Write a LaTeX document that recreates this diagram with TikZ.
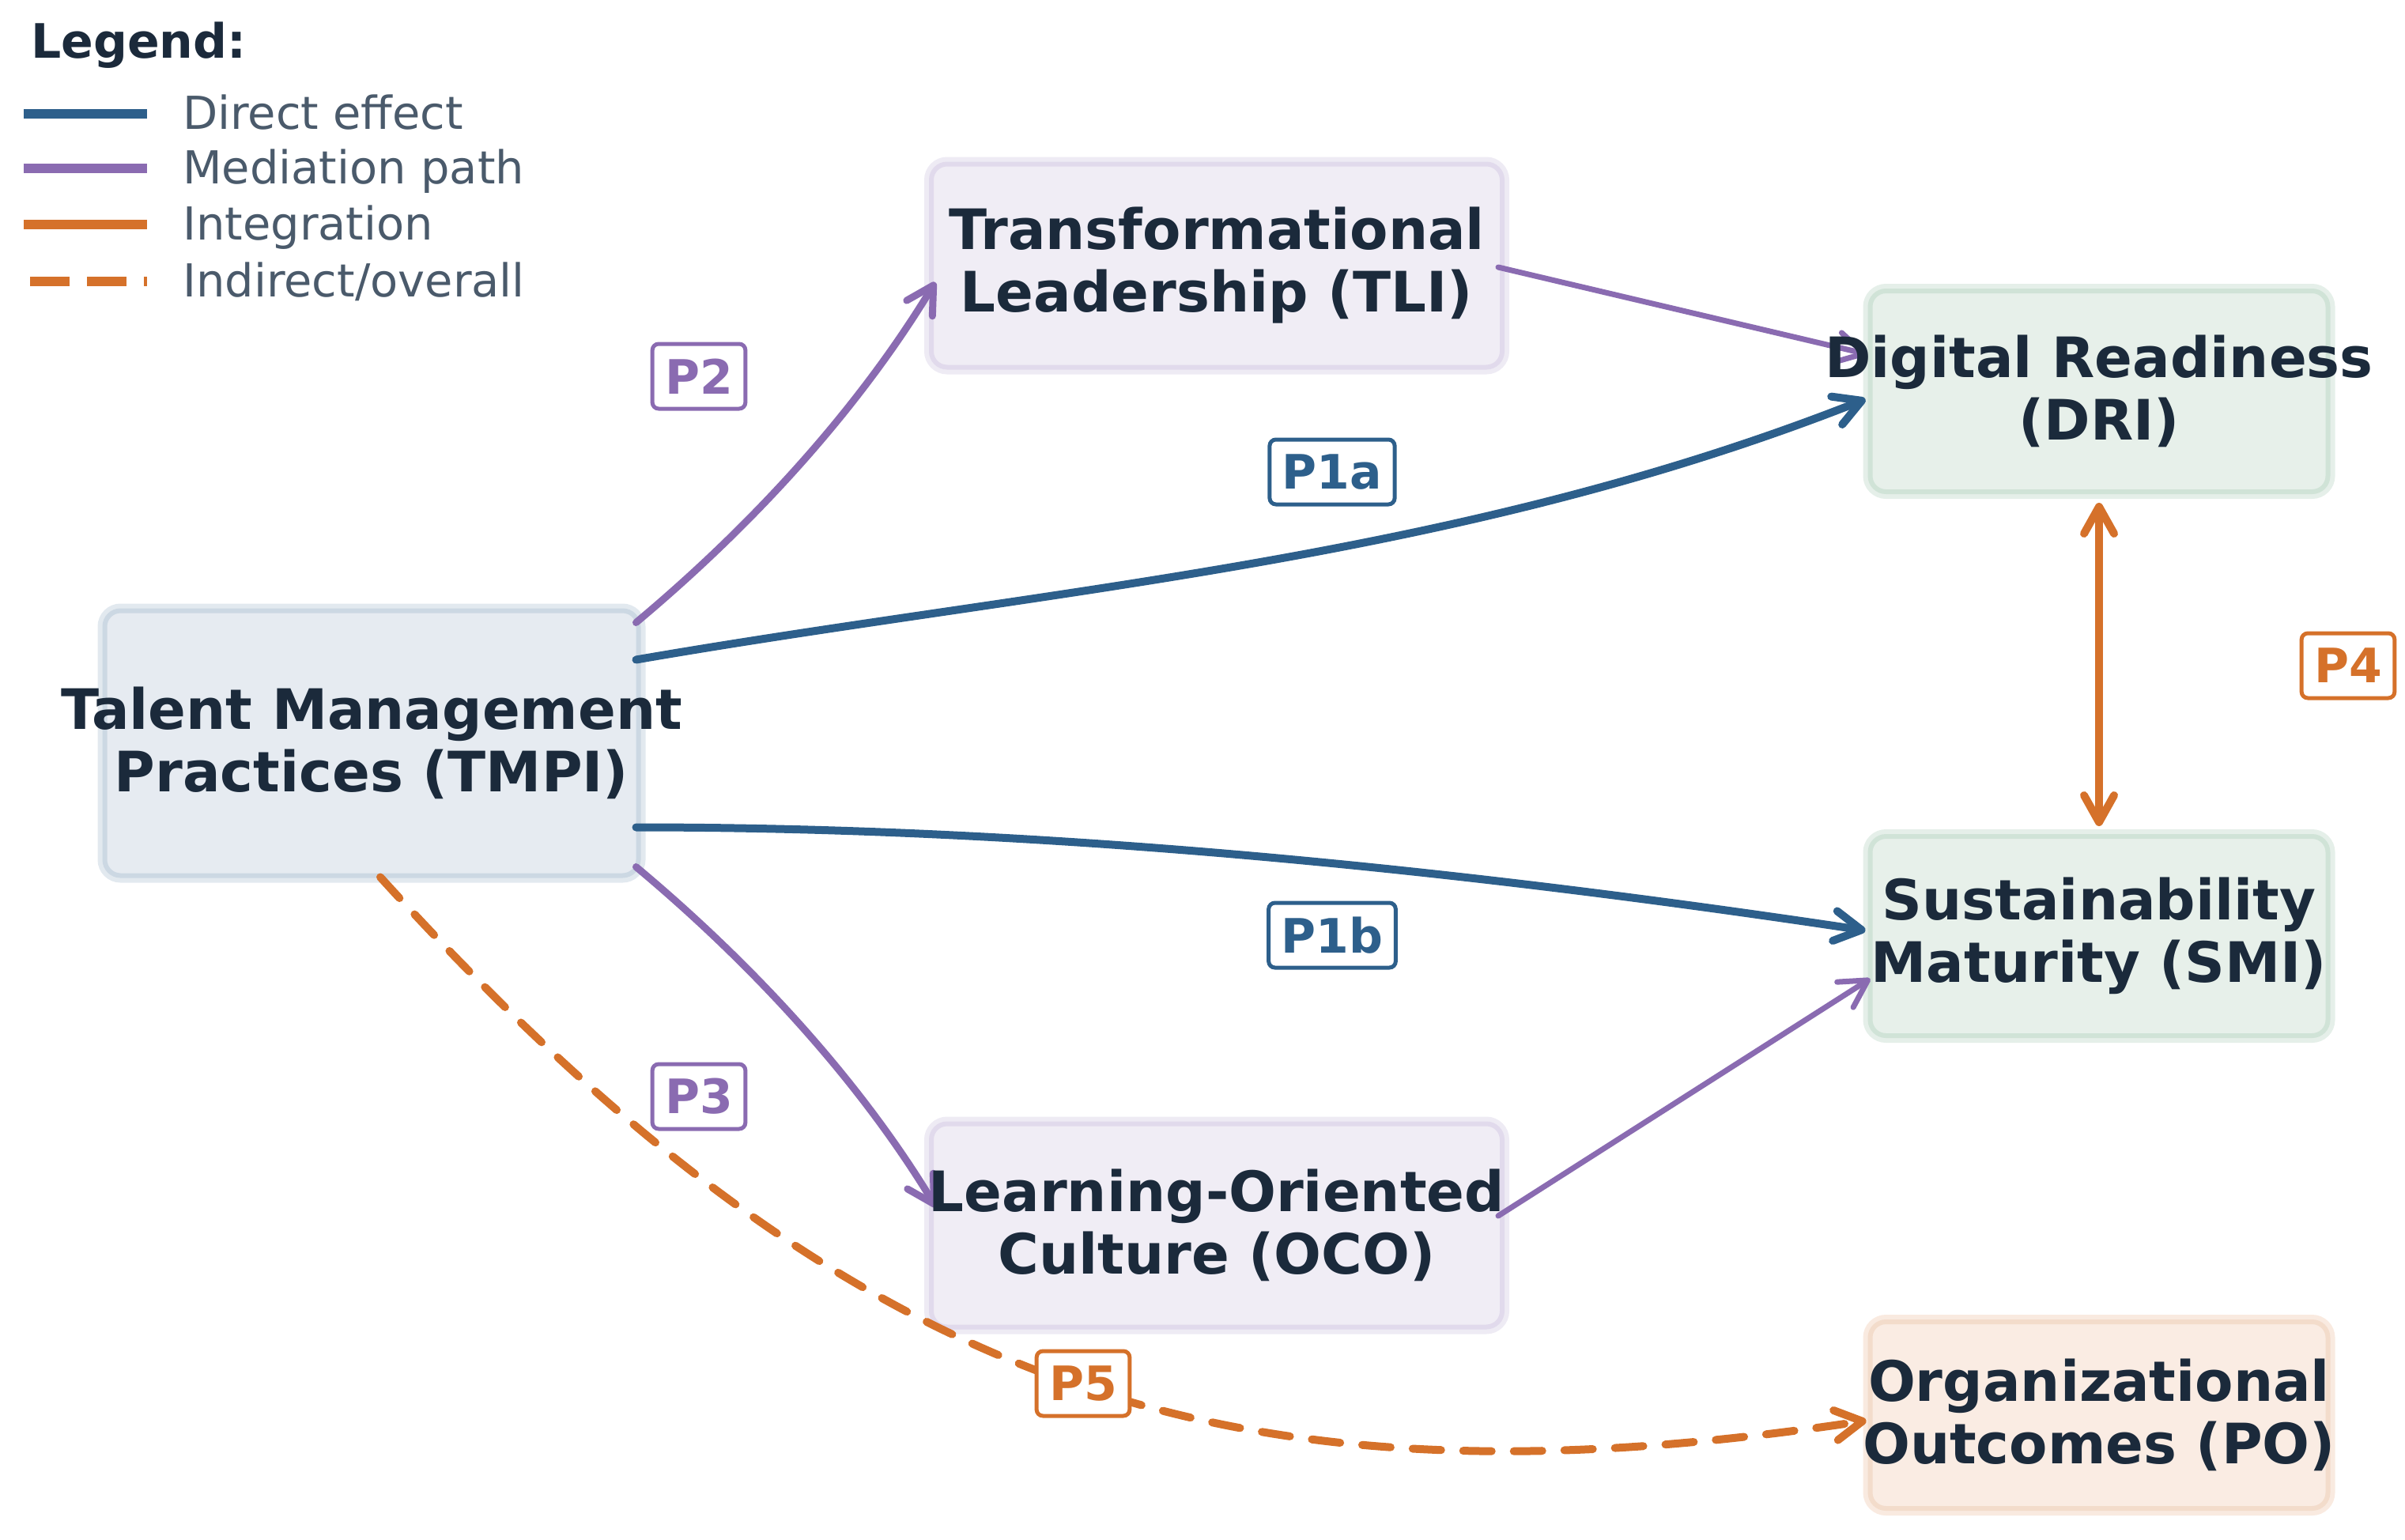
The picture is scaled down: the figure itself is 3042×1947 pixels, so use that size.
\documentclass[tikz,border=0pt]{standalone}
\usepackage{fontspec}
\setmainfont{DejaVu Sans}
\usetikzlibrary{arrows.meta}
\definecolor{cblue}{HTML}{2D5F8B}
\definecolor{cpurple}{HTML}{8A6BB1}
\definecolor{corange}{HTML}{D5712A}
\definecolor{ctext}{HTML}{1B2A3B}
\definecolor{clegend}{HTML}{4A5A6B}
\definecolor{fblue}{HTML}{E6EBF1}
\definecolor{bblue}{HTML}{CCD8E3}
\definecolor{gblue}{HTML}{E2E9EF}
\definecolor{fpurple}{HTML}{F0EDF5}
\definecolor{bpurple}{HTML}{E1DAEC}
\definecolor{gpurple}{HTML}{EEEBF4}
\definecolor{fgreen}{HTML}{E7F0EA}
\definecolor{bgreen}{HTML}{D0E3D7}
\definecolor{ggreen}{HTML}{E5EFE9}
\definecolor{forange}{HTML}{FAECE3}
\definecolor{borange}{HTML}{F3DCCB}
\definecolor{gorange}{HTML}{F9EAE0}
\begin{document}
\begin{tikzpicture}[x=1pt,y=-1pt,
  box/.style n args={3}{rectangle, rounded corners=20pt, fill=#1, draw=#2, line width=6pt,
    preaction={draw=#3, line width=18pt}, inner sep=0pt},
  nodetext/.style={font=\bfseries\fontsize{70.5}{79}\selectfont, text=ctext, align=center},
  lab/.style={rectangle, draw=#1, text=#1, fill=white, line width=5pt, rounded corners=8pt,
    font=\bfseries\fontsize{60}{60}\selectfont, inner xsep=16pt, inner ysep=0pt, minimum height=82pt},
  tip/.style={-{Straight Barb[length=34pt,width=38pt,round]}},
  direct/.style={draw=cblue, line width=10pt, line cap=round, tip},
  mediate/.style={draw=cpurple, line width=9pt, line cap=round, tip},
  mediatethin/.style={draw=cpurple, line width=7pt, line cap=round, tip},
  integ/.style={draw=corange, line width=10pt, line cap=round,
    {Straight Barb[length=34pt,width=38pt,round]}-{Straight Barb[length=34pt,width=38pt,round]}},
  indirect/.style={draw=corange, line width=10pt, line cap=round, dash pattern=on 36pt off 28pt, tip},
  legtext/.style={anchor=base west, text=clegend, font=\fontsize{57.5}{57.5}\selectfont, inner sep=0pt}
]
\useasboundingbox (0,0) rectangle (3042,1947);

% legend
\node[anchor=base west, inner sep=0pt, text=ctext, font=\bfseries\fontsize{60}{60}\selectfont] (legtitle) at (39,73) {Legend:};
\coordinate (la1) at (30,144); \coordinate (lb1) at (186,144);
\coordinate (la2) at (30,213); \coordinate (lb2) at (186,213);
\coordinate (la3) at (30,284); \coordinate (lb3) at (186,284);
\coordinate (la4) at (38,356); \coordinate (lb4) at (186,356);
\draw[cblue, line width=12pt] (la1) -- (lb1);
\draw[cpurple, line width=12pt] (la2) -- (lb2);
\draw[corange, line width=12pt] (la3) -- (lb3);
\draw[corange, line width=12pt, dash pattern=on 50pt off 22pt] (la4) -- (lb4);
\node[legtext] (lt1) at (231,163) {Direct effect};
\node[legtext] (lt2) at (231,232) {Mediation path};
\node[legtext] (lt3) at (231,303) {Integration};
\node[legtext] (lt4) at (231,375) {Indirect/overall};

% boxes
\node[box={fblue}{bblue}{gblue}, minimum width=675pt, minimum height=335pt] (tmpi) at (470,940) {};
\node[box={fpurple}{bpurple}{gpurple}, minimum width=722pt, minimum height=257pt] (tli) at (1539,336) {};
\node[box={fpurple}{bpurple}{gpurple}, minimum width=722pt, minimum height=257pt] (oco) at (1539,1550) {};
\node[box={fgreen}{bgreen}{ggreen}, minimum width=579pt, minimum height=254pt] (dri) at (2655,495) {};
\node[box={fgreen}{bgreen}{ggreen}, minimum width=579pt, minimum height=252pt] (smi) at (2655,1184) {};
\node[box={forange}{borange}{gorange}, minimum width=579pt, minimum height=236pt] (po) at (2655,1790) {};

% edges
\draw[mediate] ([shift={(-6,18)}]tmpi.north east) .. controls +(146,-122) and +(-98,162) .. ([shift={(8,21)}]tli.west);
\draw[mediatethin] ([shift={(-8,2)}]tli.east) -- ([shift={(-1,-47)}]dri.west);
\draw[direct] ([shift={(-6,65)}]tmpi.north east) .. controls +(520,-90) and +(-520,205) .. ([shift={(-3,10)}]dri.west);
\draw[direct] ([shift={(-6,-64)}]tmpi.south east) .. controls +(520,0) and +(-520,-78) .. ([shift={(-3,-7)}]smi.west);
\draw[mediate] ([shift={(-6,-14)}]tmpi.south east) .. controls +(146,122) and +(-98,-162) .. ([shift={(9,-23)}]oco.west);
\draw[mediatethin] ([shift={(-8,-12)}]oco.east) -- ([shift={(3,54)}]smi.west);
\draw[integ] ([shift={(0,11)}]dri.south) -- ([shift={(0,-10)}]smi.north);
\draw[indirect] ([shift={(11,-1)}]tmpi.south) .. controls +(600,660) and +(-800,120) .. ([shift={(-2,7)}]po.west);

% node texts
\node[nodetext] (tmpit) at (tmpi) {Talent Management\\Practices (TMPI)};
\node[nodetext] (tlit) at (tli) {Transformational\\Leadership (TLI)};
\node[nodetext] (ocot) at (oco) {Learning-Oriented\\Culture (OCO)};
\node[nodetext] (drit) at (dri) {Digital Readiness\\(DRI)};
\node[nodetext] (smit) at (smi) {Sustainability\\Maturity (SMI)};
\node[nodetext] (pot) at (po) {Organizational\\Outcomes (PO)};

% labels
\node[lab=cpurple] (lp2) at (884,476) {P2};
\node[lab=cblue] (lp1a) at (1685,597) {P1a};
\node[lab=cblue] (lp1b) at (1685,1183) {P1b};
\node[lab=cpurple] (lp3) at (884,1387) {P3};
\node[lab=corange] (lp4) at (2970,842) {P4};
\node[lab=corange] (lp5) at (1370,1750) {P5};
\end{tikzpicture}
\end{document}
